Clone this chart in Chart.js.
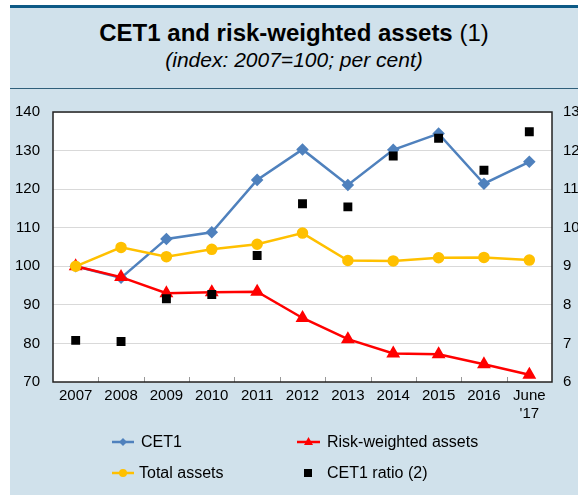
<!DOCTYPE html>
<html>
<head>
<meta charset="utf-8">
<script src="https://cdn.jsdelivr.net/npm/chart.js@4"></script>
<style>
  html, body { margin: 0; padding: 0; background: #fff; }
  body { width: 578px; height: 495px; overflow: hidden; position: relative; font-family: "Liberation Sans", Arial, sans-serif; }
  #topline { position: absolute; left: 10px; top: 5px; width: 568px; height: 3px; background: #0d5a86; }
  #panel { position: absolute; left: 10px; top: 8px; width: 568px; height: 487px; background: #d0e1eb; }
  #divider { position: absolute; left: 10px; top: 88px; width: 568px; height: 1px; background: #2f5f7a; }
  #title { position: absolute; left: 10px; top: 19px; width: 568px; text-align: center; font-size: 24px; font-weight: bold; color: #000; }
  #title span { font-weight: normal; }
  #subtitle { position: absolute; left: 10px; top: 48px; width: 568px; text-align: center; font-size: 21px; font-style: italic; color: #000; }
  #wrap { position: absolute; left: 0; top: 90px; width: 578px; height: 405px; overflow: hidden; }
  .leg { position: absolute; font-size: 16px; color: #000; line-height: 18px; }
  .mk { position: absolute; }
</style>
</head>
<body>
<div id="topline"></div>
<div id="panel"></div>
<div id="divider"></div>
<div id="title">CET1 and risk-weighted assets <span>(1)</span></div>
<div id="subtitle">(index: 2007=100; per cent)</div>
<div id="wrap"><canvas id="myChart" width="600" height="405"></canvas></div>

<svg class="mk" style="left:110px;top:435px" width="26" height="14">
  <line x1="2" y1="7" x2="24" y2="7" stroke="#4f81bd" stroke-width="2.5"/>
  <polygon points="13,3 17,7 13,11 9,7" fill="#4f81bd"/>
</svg>
<div class="leg" style="left:141px;top:433px">CET1</div>

<svg class="mk" style="left:295px;top:435px" width="28" height="14">
  <line x1="2" y1="7" x2="25" y2="7" stroke="#ff0000" stroke-width="2.5"/>
  <polygon points="13.5,2 18,10 9,10" fill="#ff0000"/>
</svg>
<div class="leg" style="left:327px;top:433px">Risk-weighted assets</div>

<svg class="mk" style="left:110px;top:466px" width="26" height="14">
  <line x1="2" y1="7" x2="24" y2="7" stroke="#ffc000" stroke-width="2.5"/>
  <circle cx="13" cy="7" r="4" fill="#ffc000"/>
</svg>
<div class="leg" style="left:139px;top:464px">Total assets</div>

<svg class="mk" style="left:300px;top:466px" width="16" height="14">
  <rect x="4" y="3" width="8" height="8" fill="#000"/>
</svg>
<div class="leg" style="left:327px;top:464px">CET1 ratio (2)</div>

<script>
const years = ['2007', '2008', '2009', '2010', '2011', '2012', '2013', '2014', '2015', '2016', ['June', "'17"]];
const cet1 = [100, 97.0, 107.1, 108.8, 122.4, 130.3, 121.1, 130.2, 134.4, 121.4, 127.1];
const riskWeighted = [100, 97.2, 93.0, 93.3, 93.4, 86.6, 81.1, 77.4, 77.2, 74.6, 71.9];
const totalAssets = [100, 104.9, 102.5, 104.4, 105.7, 108.6, 101.5, 101.4, 102.2, 102.3, 101.6];
const cet1Ratio = [7.08, 7.05, 8.16, 8.27, 9.28, 10.62, 10.54, 11.86, 12.32, 11.49, 12.49];

const tickFont = { family: '"Liberation Sans", Arial, sans-serif', size: 15 };

// white plot area, black frame and the small x ticks inside the frame
const frame = {
  id: 'frame',
  beforeDraw(chart) {
    const a = chart.chartArea;
    const ctx = chart.ctx;
    ctx.save();
    ctx.fillStyle = '#fff';
    ctx.fillRect(a.left, a.top, a.right - a.left, a.bottom - a.top);
    ctx.restore();
  },
  beforeDatasetsDraw(chart) {
    const a = chart.chartArea;
    const ctx = chart.ctx;
    const x = chart.scales.x;
    ctx.save();
    ctx.strokeStyle = '#999';
    ctx.lineWidth = 1;
    for (let i = 1; i < years.length; i++) {
      const px = Math.round((x.getPixelForValue(i - 1) + x.getPixelForValue(i)) / 2) + 0.5;
      ctx.beginPath();
      ctx.moveTo(px, a.bottom - 5);
      ctx.lineTo(px, a.bottom);
      ctx.stroke();
    }
    ctx.strokeStyle = '#222';
    ctx.lineWidth = 1.5;
    ctx.strokeRect(a.left, a.top, a.right - a.left, a.bottom - a.top);
    ctx.restore();
  }
};

const ctx = document.getElementById('myChart').getContext('2d');
new Chart(ctx, {
  type: 'line',
  data: {
    labels: years,
    datasets: [
      { label: 'CET1 ratio (2)', data: cet1Ratio, yAxisID: 'y2', showLine: false,
        pointStyle: 'rect', pointRadius: 6.3, backgroundColor: '#000', borderColor: '#000', borderWidth: 0, order: 0 },
      { label: 'Total assets', data: totalAssets, yAxisID: 'y', borderColor: '#ffc000', backgroundColor: '#ffc000',
        borderWidth: 2.5, pointStyle: 'circle', pointRadius: 4.5, order: 1 },
      { label: 'Risk-weighted assets', data: riskWeighted, yAxisID: 'y', borderColor: '#ff0000', backgroundColor: '#ff0000',
        borderWidth: 2.5, pointStyle: 'triangle', pointRadius: 5.5, order: 2 },
      { label: 'CET1', data: cet1, yAxisID: 'y', borderColor: '#4f81bd', backgroundColor: '#4f81bd',
        borderWidth: 2.5, pointStyle: 'rectRot', pointRadius: 4.5, order: 3 }
    ]
  },
  options: {
    responsive: false,
    animation: false,
    devicePixelRatio: 1,
    layout: { padding: { top: 19, left: 0, right: 0, bottom: 0 } },
    plugins: { legend: { display: false }, tooltip: { enabled: false } },
    elements: { line: { tension: 0 } },
    scales: {
      x: {
        offset: true,
        grid: { display: false, drawTicks: false },
        border: { display: false },
        ticks: { color: '#000', font: tickFont, padding: 5, maxRotation: 0, autoSkip: false },
        afterFit(s) { s.height = 113; }
      },
      y: {
        position: 'left',
        min: 70, max: 140,
        grid: { color: '#d9d9d9', drawTicks: false },
        border: { display: false },
        ticks: { stepSize: 10, color: '#000', font: tickFont, padding: 13 },
        afterFit(s) { s.width = 53; }
      },
      y2: {
        position: 'right',
        min: 6, max: 13,
        grid: { display: false, drawTicks: false },
        border: { display: false },
        ticks: { stepSize: 1, color: '#000', font: tickFont, padding: 11 },
        afterFit(s) { s.width = 48; }
      }
    }
  },
  plugins: [frame]
});
</script>
</body>
</html>
